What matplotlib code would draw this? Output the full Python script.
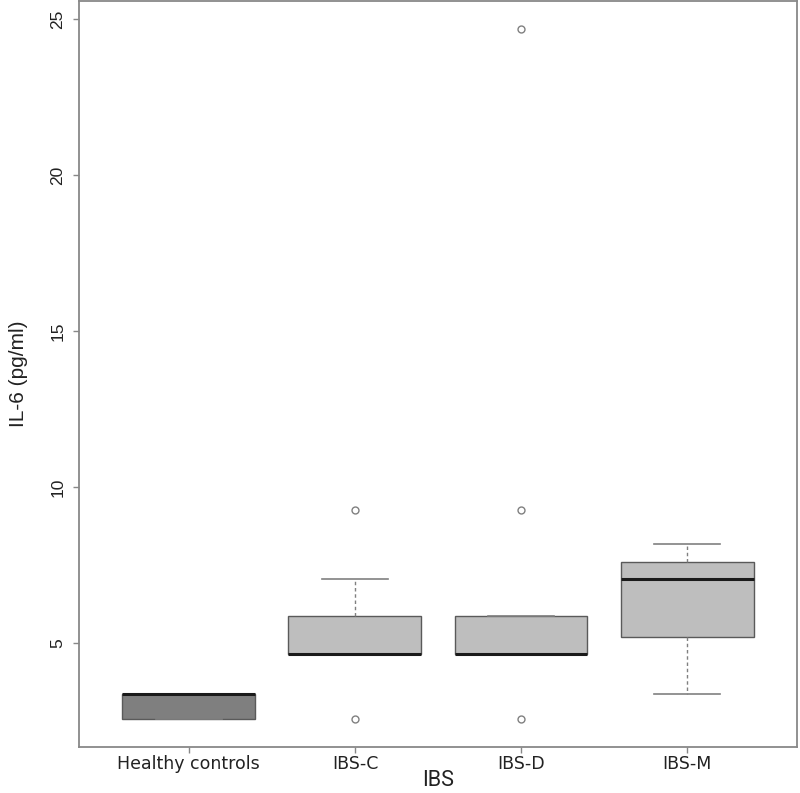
import matplotlib as mpl
mpl.use("Agg")
import matplotlib.pyplot as plt

# ── Data ──────────────────────────────────────────────────────────────────────
GROUPS = ["Healthy controls", "IBS-C", "IBS-D", "IBS-M"]
WHISKER_LO = [2.55, 4.65, 4.65, 3.36]
Q1 = [2.55, 4.65, 4.65, 5.20]
MEDIAN = [3.36, 4.65, 4.65, 7.04]
Q3 = [3.36, 5.87, 5.87, 7.59]
WHISKER_HI = [3.36, 7.04, 5.87, 8.16]
OUTLIERS = [[], [2.55, 9.26], [2.55, 9.26, 24.69], []]

FILL = ["#7f7f7f", "#bebebe", "#bebebe", "#bebebe"]
EDGE = "#5a5a5a"
LINE = "#808080"

fig = plt.figure(figsize=(8.0, 7.93), dpi=100)
ax = fig.add_axes([0.099, 0.058, 0.897, 0.9405])

stats = []
for i, name in enumerate(GROUPS):
    stats.append({
        "label": name, "whislo": WHISKER_LO[i], "q1": Q1[i], "med": MEDIAN[i],
        "q3": Q3[i], "whishi": WHISKER_HI[i], "fliers": OUTLIERS[i],
    })

bp = ax.bxp(
    stats, positions=range(1, len(GROUPS) + 1), widths=0.8,
    patch_artist=True, showfliers=True,
    boxprops=dict(edgecolor=EDGE, linewidth=1.0),
    medianprops=dict(color="#1a1a1a", linewidth=2.2, solid_capstyle="butt"),
    whiskerprops=dict(color=LINE, linewidth=1.0, linestyle=(0, (2.5, 2))),
    capprops=dict(color=LINE, linewidth=1.2),
    flierprops=dict(marker="o", markersize=5, markerfacecolor="none",
                    markeredgecolor=LINE, markeredgewidth=1.0),
    capwidths=0.4,
)
for patch, fc in zip(bp["boxes"], FILL):
    patch.set_facecolor(fc)

# R-style 4% extended ranges
ax.set_xlim(0.34, 4.66)
ax.set_ylim(1.667, 25.58)

ax.set_yticks([5, 10, 15, 20, 25])
ax.set_yticklabels(["5", "10", "15", "20", "25"], rotation=90, va="center",
                   fontsize=12.5, family="Liberation Sans", color="#222222")
ax.set_xticks(range(1, len(GROUPS) + 1))
ax.set_xticklabels(GROUPS, fontsize=12.5, family="DejaVu Sans", color="#222222")

ax.tick_params(axis="both", direction="out", length=4, width=1.0, color="#888888")
ax.tick_params(axis="y", pad=6)
ax.tick_params(axis="x", pad=2)

for sp in ax.spines.values():
    sp.set_color("#888888")
    sp.set_linewidth(1.3)

ax.set_ylabel("IL-6 (pg/ml)", fontsize=15, family="Liberation Sans",
              color="#222222", labelpad=16)
fig.text(0.548, 1 - 781 / 793, "IBS", ha="center", va="center",
         fontsize=15.5, family="Roboto", color="#222222")

fig.savefig("out.png", dpi=100)
